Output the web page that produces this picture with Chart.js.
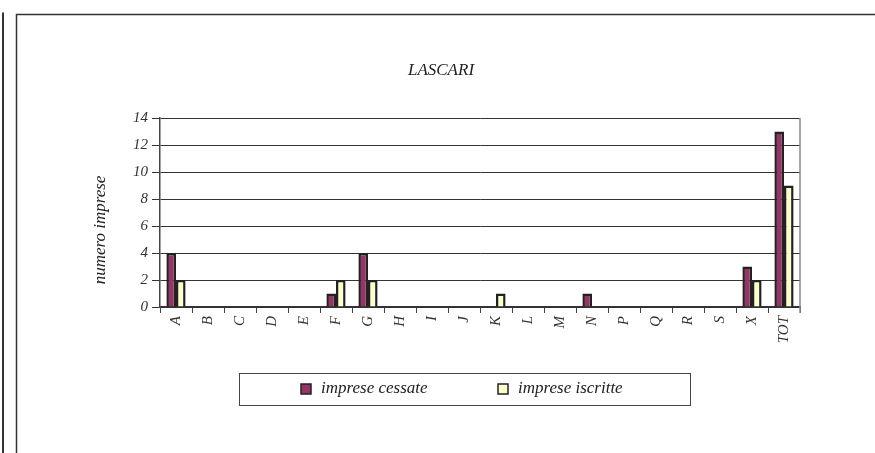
<!DOCTYPE html>
<html>
<head>
<meta charset="utf-8">
<script src="https://cdn.jsdelivr.net/npm/chart.js@4.4.0/dist/chart.umd.min.js"></script>
<style>
  html, body { margin: 0; padding: 0; background: #fff; }
  #wrap { position: relative; width: 875px; height: 453px; }
</style>
</head>
<body>
<div id="wrap"><canvas id="chart" width="875" height="453"></canvas></div>
<script>
// categories (sectors)
const categories = ["A","B","C","D","E","F","G","H","I","J","K","L","M","N","P","Q","R","S","X","TOT"];

// values
const cessate  = [4,0,0,0,0,1,4,0,0,0,0,0,0,1,0,0,0,0,3,13];
const iscritte = [2,0,0,0,0,2,2,0,0,0,1,0,0,0,0,0,0,0,2,9];

const yTicks = [0,2,4,6,8,10,12,14];

const chartTitle = "LASCARI";
const yTitle = "numero imprese";
const seriesNames = ["imprese cessate", "imprese iscritte"];

const serif = "'Liberation Serif', 'Times New Roman', serif";

// draws the frames, titles and the boxed legend
const decorations = {
  id: 'decorations',
  afterDraw(chart) {
    const ctx = chart.ctx;
    const area = chart.chartArea;
    ctx.save();

    // outer frame lines
    ctx.strokeStyle = '#333';
    ctx.lineWidth = 2;
    ctx.beginPath();
    ctx.moveTo(3, 12.5);
    ctx.lineTo(3, 453);
    ctx.stroke();
    ctx.lineWidth = 1.5;
    ctx.beginPath();
    ctx.moveTo(16.5, 453);
    ctx.lineTo(16.5, 14.5);
    ctx.lineTo(875, 14.5);
    ctx.stroke();

    // right edge of plot
    ctx.strokeStyle = '#888';
    ctx.lineWidth = 1.5;
    ctx.beginPath();
    ctx.moveTo(area.right, area.top);
    ctx.lineTo(area.right, area.bottom + 6);
    ctx.stroke();

    // title
    ctx.fillStyle = '#222';
    ctx.font = "italic 17px " + serif;
    ctx.textAlign = 'center';
    ctx.textBaseline = 'middle';
    ctx.fillText(chartTitle, 441, 71);

    // y axis title
    ctx.save();
    ctx.translate(101, 230);
    ctx.rotate(-Math.PI / 2);
    ctx.fillText(yTitle, 0, 0);
    ctx.restore();

    // legend box
    ctx.strokeStyle = '#444';
    ctx.lineWidth = 1;
    ctx.strokeRect(239.5, 373.5, 451, 32);

    const items = chart.data.datasets;
    const xs = [301, 498];
    ctx.font = "italic 17px " + serif;
    ctx.textAlign = 'left';
    ctx.textBaseline = 'middle';
    for (let i = 0; i < items.length; i++) {
      ctx.fillStyle = items[i].backgroundColor;
      ctx.fillRect(xs[i], 384, 10, 10);
      ctx.strokeStyle = '#222';
      ctx.lineWidth = 1.5;
      ctx.strokeRect(xs[i], 384, 10, 10);
      ctx.fillStyle = '#222';
      ctx.fillText(items[i].label, xs[i] + 20, 389);
    }
    ctx.restore();
  }
};

new Chart(document.getElementById('chart'), {
  type: 'bar',
  data: {
    labels: categories,
    datasets: [{
      label: seriesNames[0],
      data: cessate,
      backgroundColor: '#993366',
      borderColor: '#222',
      borderWidth: 2.5,
      barPercentage: 1,
      categoryPercentage: 0.6
    }, {
      label: seriesNames[1],
      data: iscritte,
      backgroundColor: '#FFFFCC',
      borderColor: '#222',
      borderWidth: 2.5,
      barPercentage: 1,
      categoryPercentage: 0.6
    }]
  },
  options: {
    responsive: false,
    animation: false,
    layout: { padding: { left: 0, top: 118, right: 75, bottom: 96 } },
    plugins: {
      legend: { display: false },
      title: { display: false },
      tooltip: { enabled: false }
    },
    scales: {
      x: {
        afterFit: function (scale) { scale.height = 50; },
        grid: {
          offset: true,
          drawOnChartArea: false,
          tickLength: 6,
          color: '#444'
        },
        border: { color: '#333', width: 1.5 },
        ticks: {
          minRotation: 90,
          maxRotation: 90,
          autoSkip: false,
          padding: 3,
          color: '#333',
          font: { family: serif, style: 'italic', size: 15 }
        }
      },
      y: {
        min: 0,
        max: 14,
        afterFit: function (scale) { scale.width = 160; },
        afterBuildTicks: function (scale) {
          scale.ticks = yTicks.map(v => ({ value: v }));
        },
        grid: {
          color: '#333',
          tickLength: 8,
          lineWidth: 1
        },
        border: { color: '#444', width: 1.5 },
        ticks: {
          padding: 4,
          color: '#333',
          font: { family: serif, style: 'italic', size: 15 }
        }
      }
    }
  },
  plugins: [decorations]
});
</script>
</body>
</html>
